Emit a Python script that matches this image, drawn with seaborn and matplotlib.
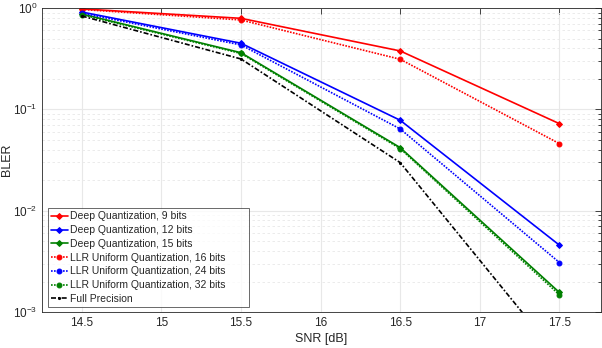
import numpy as np
import pandas as pd
import matplotlib
matplotlib.use("Agg")
import matplotlib.pyplot as plt
import seaborn as sns
from matplotlib.ticker import LogLocator, NullFormatter, FixedLocator

snr = [14.5, 15.5, 16.5, 17.5]
deep_9 = [0.98, 0.791, 0.377, 0.0722]
deep_12 = [0.913, 0.449, 0.078, 0.00457]
deep_15 = [0.873, 0.362, 0.0419, 0.00156]
llr_16 = [0.967, 0.762, 0.312, 0.0459]
llr_24 = [0.89, 0.432, 0.0641, 0.00308]
llr_32 = [0.86, 0.356, 0.041, 0.00148]
full_precision = [0.834, 0.314, 0.0298, 0.000352]

labels = ["Deep Quantization, 9 bits", "Deep Quantization, 12 bits",
          "Deep Quantization, 15 bits", "LLR Uniform Quantization, 16 bits",
          "LLR Uniform Quantization, 24 bits", "LLR Uniform Quantization, 32 bits",
          "Full Precision"]
series = [deep_9, deep_12, deep_15, llr_16, llr_24, llr_32, full_precision]
colors = ["#ff0000", "#0000ff", "#008000", "#ff0000", "#0000ff", "#008000", "#000000"]
styles = ["-", "-", "-", (0, (1, 0.8)), (0, (1, 0.8)), (0, (1, 0.8)), (0, (3, 1.2, 1, 1.2))]
markers = ["D", "D", "D", "o", "o", "o", "."]
msizes = [3, 3, 3, 3.5, 3.5, 3.5, 3]

sns.set_style("white")
plt.rcParams['font.family'] = ['Liberation Sans', 'DejaVu Sans']
plt.rcParams['mathtext.fontset'] = 'custom'
plt.rcParams['mathtext.rm'] = 'Liberation Sans'
plt.rcParams['mathtext.it'] = 'Liberation Sans'

fig = plt.figure(figsize=(6.02, 3.48), dpi=100)
ax = fig.add_axes([0.0698, 0.1034, 0.9282, 0.8736])

for lab, vals, c, ls, mk, ms in zip(labels, series, colors, styles, markers, msizes):
    df = pd.DataFrame({"SNR": snr, "BLER": vals})
    sns.lineplot(data=df, x="SNR", y="BLER", ax=ax, color=c, linestyle=ls,
                 marker=mk, markersize=ms, markeredgecolor=c, markerfacecolor=c,
                 linewidth=1.2, label=lab)

ax.set_yscale("log")
ax.set_ylim(1e-3, 1)
ax.set_xlim(14.25, 17.76)
ax.xaxis.set_major_locator(FixedLocator([14.5, 15, 15.5, 16, 16.5, 17, 17.5]))
ax.set_xticklabels(["14.5", "15", "15.5", "16", "16.5", "17", "17.5"])
ax.yaxis.set_major_locator(LogLocator(base=10, numticks=10))
ax.yaxis.set_minor_locator(LogLocator(base=10, subs=np.arange(2, 10), numticks=20))
ax.yaxis.set_minor_formatter(NullFormatter())

ax.grid(True, which="major", axis="x", color="#e8e8e8", linestyle="-", linewidth=0.8)
ax.grid(True, which="major", axis="y", color="#e8e8e8", linestyle="-", linewidth=0.8)
ax.grid(True, which="minor", axis="y", color="#e8e8e8", linestyle=(0, (3, 3)), linewidth=0.6)
ax.set_axisbelow(True)

for sp in ax.spines.values():
    sp.set_color("#262626")
    sp.set_linewidth(0.6)
    sp.set_visible(True)
ax.tick_params(which="both", direction="in", top=True, right=True, color="#262626",
               labelsize=8.5, labelcolor="#262626", width=0.6)
ax.tick_params(which="major", length=4)
ax.tick_params(which="minor", length=2)

ax.set_xlabel("SNR [dB]", fontsize=9, color="#262626", labelpad=3)
ax.set_ylabel("BLER", fontsize=9, color="#262626")
ax.yaxis.set_label_coords(-0.052, 0.5)

leg = ax.legend(loc="lower left", fontsize=7.5, frameon=True, fancybox=False,
                borderpad=0.3, labelspacing=0.36, handlelength=1.6, handletextpad=0.25,
                borderaxespad=0.0, bbox_to_anchor=(0.0107, 0.0164, 0.36, 0.316),
                mode="expand")
leg.get_frame().set_edgecolor("#262626")
leg.get_frame().set_linewidth(0.6)

fig.savefig("out.png", dpi=100)
